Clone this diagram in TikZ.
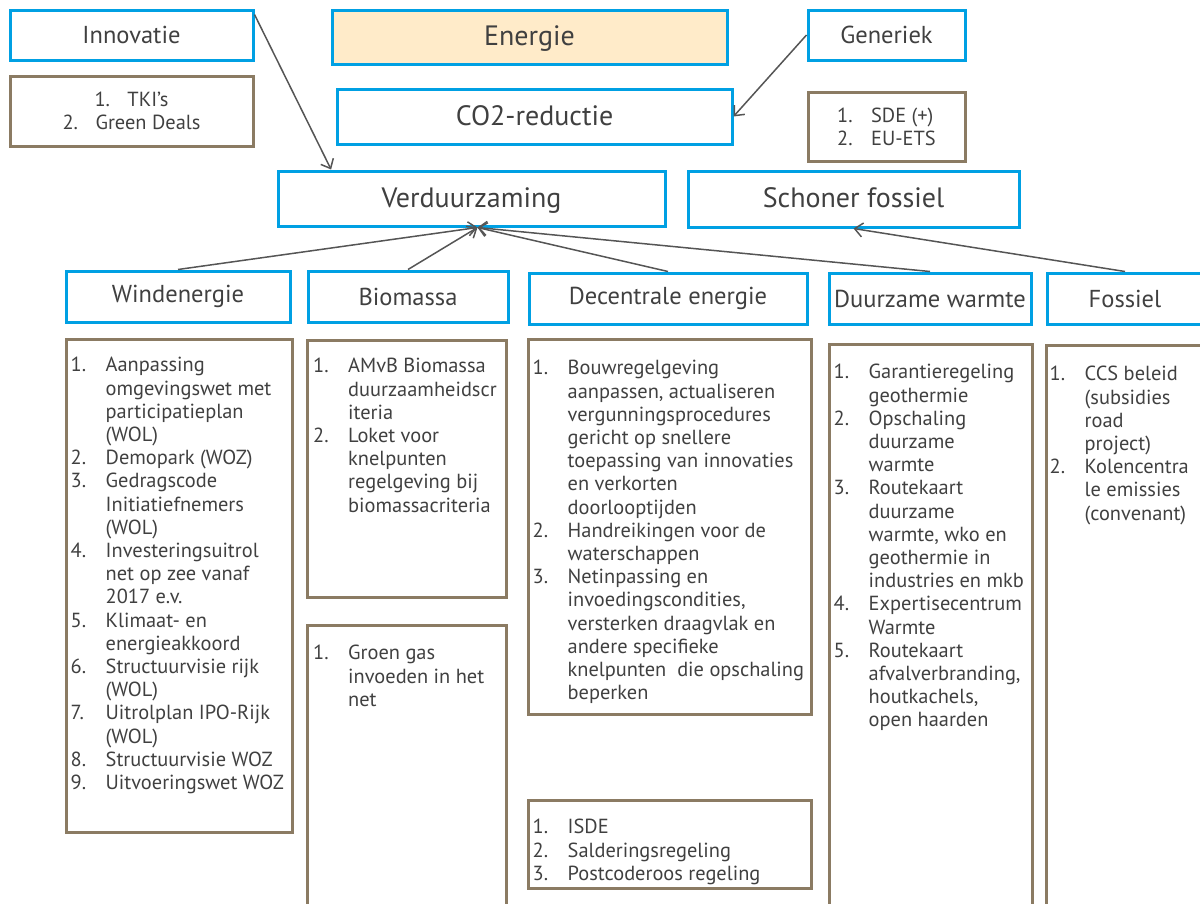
\documentclass[tikz,border=0pt]{standalone}
\usepackage{fontspec}
\setmainfont{PT Sans}
\usepackage{tikz}
\usetikzlibrary{arrows.meta}
\usetikzlibrary{calc,positioning}

\definecolor{blauw}{RGB}{0,160,227}
\definecolor{bruin}{RGB}{139,123,99}
\definecolor{zand}{RGB}{255,235,201}
\definecolor{tekstgrijs}{RGB}{64,64,64}
\definecolor{pijlgrijs}{RGB}{85,85,85}
\newcommand{\opsom}[1]{\begin{tabular}{@{}p{35pt}@{}l@{}}#1\end{tabular}}

\begin{document}
\begin{tikzpicture}[x=1pt,y=-1pt,text=tekstgrijs]
    \tikzstyle{kop}=[rectangle, draw=blauw, line width=3pt, inner sep=0pt, font=\fontsize{24.5}{28}\selectfont]
    \tikzstyle{hoofd}=[kop, font=\fontsize{28}{32}\selectfont, text depth=2pt]
    \tikzstyle{vak}=[rectangle, draw=bruin, line width=3pt, inner sep=0pt]
    \tikzstyle{lijst}=[inner sep=0pt, font=\fontsize{20.4}{23.2}\selectfont]
    \tikzstyle{pijl}=[draw=pijlgrijs, line width=1.5pt, -{Straight Barb[length=8pt,width=14pt]}]

    \useasboundingbox (0,0) rectangle (1200,903);

    % bovenste rij
    \node[kop, minimum width=243, minimum height=50] (innovatie) at (131.5,35) {Innovatie};
    \node[vak, minimum width=243, minimum height=70, align=center, font=\fontsize{20.4}{23.2}\selectfont] (tki) at (131.5,111)
        {\makebox[33pt][l]{1.}TKI's\\ \makebox[33pt][l]{2.}Green Deals};
    \node[hoofd, fill=zand, minimum width=395, minimum height=54] (energie) at (529.5,37) {Energie};
    \node[hoofd, minimum width=395, minimum height=55] (co2) at (534.5,116.5) {CO2-reductie};
    \node[kop, minimum width=157, minimum height=50] (generiek) at (886.5,35) {Generiek};
    \node[vak, minimum width=157, minimum height=69, align=left, font=\fontsize{20.4}{23.2}\selectfont] (sde) at (886.5,126.5)
        {\makebox[34pt][l]{1.}SDE (+)\\ \makebox[34pt][l]{2.}EU-ETS};

    \node[hoofd, minimum width=387, minimum height=55] (verduurzaming) at (471.5,198.5) {Verduurzaming};
    \node[hoofd, minimum width=331, minimum height=56] (schoner) at (853.5,199) {Schoner fossiel};

    % thema's
    \node[kop, minimum width=224, minimum height=51] (wind) at (178,296.5) {Windenergie};
    \node[kop, minimum width=200, minimum height=51] (biomassa) at (408,296.5) {Biomassa};
    \node[kop, minimum width=278, minimum height=51] (decentraal) at (668,298.5) {Decentrale energie};
    \node[kop, minimum width=202, minimum height=51] (warmte) at (930,298.5) {Duurzame warmte};
    \node[kop, minimum width=156, minimum height=51] (fossiel) at (1125,298.5) {Fossiel};

    % maatregelen
    \node[vak, minimum width=226, minimum height=493] (windvak) at (179,585.5) {};
    \node[vak, minimum width=199, minimum height=257] (biovak) at (407,468.5) {};
    \node[vak, minimum width=199, minimum height=300] (gasvak) at (407,775) {};
    \node[vak, minimum width=283, minimum height=375] (decvak) at (669.5,526.5) {};
    \node[vak, minimum width=283, minimum height=88] (isdevak) at (669.5,844) {};
    \node[vak, minimum width=203, minimum height=570] (warmtevak) at (930.5,629) {};
    \node[vak, minimum width=160, minimum height=570] (fossielvak) at (1126,630) {};

    \node[lijst, below right=18pt and 6pt of windvak.north west] (windlijst) {\opsom{
        1. & Aanpassing\\ & omgevingswet met\\ & participatieplan\\ & (WOL)\\
        2. & Demopark (WOZ)\\
        3. & Gedragscode\\ & Initiatiefnemers\\ & (WOL)\\
        4. & Investeringsuitrol\\ & net op zee vanaf\\ & 2017 e.v.\\
        5. & Klimaat- en\\ & energieakkoord\\
        6. & Structuurvisie rijk\\ & (WOL)\\
        7. & Uitrolplan IPO-Rijk\\ & (WOL)\\
        8. & Structuurvisie WOZ\\
        9. & Uitvoeringswet WOZ}};
    \node[lijst, below right=18pt and 7pt of biovak.north west] (biolijst) {\opsom{
        1. & AMvB Biomassa\\ & duurzaamheidscr\\ & iteria\\
        2. & Loket voor\\ & knelpunten\\ & regelgeving bij\\ & biomassacriteria}};
    \node[lijst, below right=20pt and 7pt of gasvak.north west] (gaslijst) {\opsom{
        1. & Groen gas\\ & invoeden in het\\ & net}};
    \node[lijst, below right=21pt and 6pt of decvak.north west] (declijst) {\opsom{
        1. & Bouwregelgeving\\ & aanpassen, actualiseren\\ & vergunningsprocedures\\ & gericht op snellere\\
           & toepassing van innovaties\\ & en verkorten\\ & doorlooptijden\\
        2. & Handreikingen voor de\\ & waterschappen\\
        3. & Netinpassing en\\ & invoedingscondities,\\ & versterken draagvlak en\\ & andere specifieke\\
           & knelpunten\ \ die opschaling\\ & beperken}};
    \node[lijst, below right=19pt and 6pt of isdevak.north west] (isdelijst) {\opsom{
        1. & ISDE\\ 2. & Salderingsregeling\\ 3. & Postcoderoos regeling}};
    \node[lijst, below right=20pt and 6pt of warmtevak.north west] (warmtelijst) {\opsom{
        1. & Garantieregeling\\ & geothermie\\
        2. & Opschaling\\ & duurzame\\ & warmte\\
        3. & Routekaart\\ & duurzame\\ & warmte, wko en\\ & geothermie in\\ & industries en mkb\\
        4. & Expertisecentrum\\ & Warmte\\
        5. & Routekaart\\ & afvalverbranding,\\ & houtkachels,\\ & open haarden}};
    \node[lijst, below right=21pt and 5pt of fossielvak.north west] (fossiellijst) {\opsom{
        1. & CCS beleid\\ & (subsidies\\ & road\\ & project)\\
        2. & Kolencentra\\ & le emissies\\ & (convenant)}};

    % pijlen
    \draw[pijl] ([yshift=-6pt]innovatie.north east) -- ($(verduurzaming.north west)!0.14!(verduurzaming.north east)$);
    \draw[pijl] (generiek.west) -- (co2.east);
    \draw[pijl] (wind.north) -- ([xshift=6pt]verduurzaming.south);
    \draw[pijl] (biomassa.north) -- ([xshift=6pt]verduurzaming.south);
    \draw[pijl] (decentraal.north) -- ([xshift=6pt]verduurzaming.south);
    \draw[pijl] (warmte.north) -- ([xshift=6pt]verduurzaming.south);
    \draw[pijl] (fossiel.north) -- (schoner.south);
\end{tikzpicture}
\end{document}
